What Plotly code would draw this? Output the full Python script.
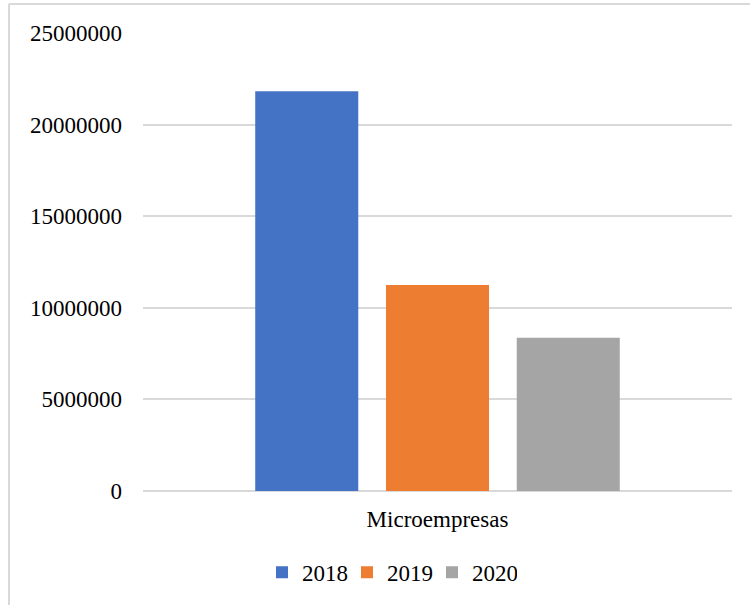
import plotly.graph_objects as go

# Data
categories = ["Microempresas"]
years = ["2018", "2019", "2020"]
values = {
    "2018": [21820000],
    "2019": [11250000],
    "2020": [8370000],
}
colors = {"2018": "#4472C4", "2019": "#ED7D31", "2020": "#A5A5A5"}
y_ticks = [0, 5000000, 10000000, 15000000, 20000000, 25000000]

FONT = "Liberation Serif"

fig = go.Figure()
for yr in years:
    fig.add_trace(go.Bar(
        x=categories,
        y=values[yr],
        name=yr,
        marker=dict(color=colors[yr], line=dict(width=0)),
    ))

L, R, T, B = 143, 18, 33, 113
W = 750 - L - R
fig.update_layout(
    width=750,
    height=605,
    margin=dict(l=L, r=R, t=T, b=B, pad=0),
    paper_bgcolor="white",
    plot_bgcolor="white",
    barmode="group",
    bargap=0.334,
    bargroupgap=0.212,
    font=dict(family=FONT, size=23, color="#000000"),
    showlegend=True,
    legend=dict(
        orientation="h",
        x=(262 - L) / W, xanchor="left",
        y=-0.175, yanchor="middle",
        font=dict(family=FONT, size=23, color="#000000"),
        itemwidth=30,
        entrywidth=40,
        itemclick=False,
    ),
    xaxis=dict(
        showgrid=False,
        showline=False,
        zeroline=False,
        ticks="",
        ticklabelstandoff=12,
        tickfont=dict(family=FONT, size=23, color="#000000"),
    ),
    yaxis=dict(
        range=[0, 25000000],
        tickvals=y_ticks,
        ticktext=[str(v) for v in y_ticks],
        showgrid=True,
        gridcolor="#D9D9D9",
        gridwidth=1.5,
        zeroline=True,
        zerolinecolor="#D9D9D9",
        zerolinewidth=1.5,
        showline=False,
        ticks="",
        ticklabelstandoff=20,
        tickfont=dict(family=FONT, size=23, color="#000000"),
    ),
)

# Chart-area frame (left and top edges visible)
fig.add_shape(type="line", xref="paper", yref="paper",
              x0=(9 - L) / W, x1=(9 - L) / W, y0=-0.3, y1=(492 - 4) / 459,
              line=dict(color="#D9D9D9", width=2))
fig.add_shape(type="line", xref="paper", yref="paper",
              x0=(9 - L) / W, x1=1.1, y0=(492 - 4) / 459, y1=(492 - 4) / 459,
              line=dict(color="#D9D9D9", width=2))

fig.write_html("out.html")
